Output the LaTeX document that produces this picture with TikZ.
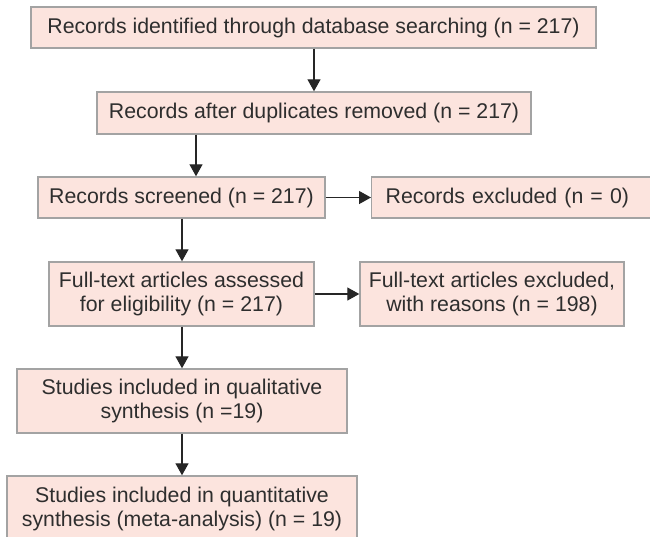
\documentclass[tikz,border=0pt]{standalone}
\usepackage{fontspec}
\setmainfont{Liberation Sans}
\usetikzlibrary{arrows.meta}
\definecolor{boxfill}{HTML}{FCE4DE}
\definecolor{boxline}{HTML}{A3A3A3}
\definecolor{txt}{HTML}{2E2E2E}
\definecolor{arrc}{HTML}{262626}
\begin{document}
\begin{tikzpicture}[x=1pt,y=-1pt,
  box/.style={draw=boxline,fill=boxfill,line width=1.4pt,inner sep=0pt,align=center,
    text=txt,font=\fontsize{21.3}{24}\selectfont},
  arr/.style={draw=arrc,line width=1.3pt,-{Triangle[length=12pt,width=13pt]}}]
\useasboundingbox (0,0) rectangle (650,536);
\node[box,minimum width=565pt,minimum height=41pt] (b1) at (313.5,27.5) {Records identified through database searching (n = 217)};
\node[box,minimum width=434pt,minimum height=42pt] (b2) at (314,113) {Records after duplicates removed (n = 217)};
\node[box,minimum width=287pt,minimum height=41pt] (b3) at (181.5,197.5) {Records screened (n = 217)};
\node[box,anchor=west,minimum width=285pt,minimum height=41pt,text width=257pt,inner xsep=14pt,align=left] (b4) at (371,197.5) {Records excluded (n = 0)};
\node[box,minimum width=265pt,minimum height=64pt] (b5) at (181.5,294) {Full-text articles assessed\\for eligibility (n = 217)};
\node[box,minimum width=264pt,minimum height=64pt] (b6) at (492,294) {Full-text articles excluded,\\with reasons (n = 198)};
\node[box,minimum width=330pt,minimum height=64pt] (b7) at (182,401) {Studies included in qualitative\\synthesis (n =19)};
\node[box,minimum width=350pt,minimum height=66pt] (b8) at (182,509) {Studies included in quantitative\\synthesis (meta-analysis) (n = 19)};
\coordinate (c2) at (196,0);
\coordinate (cm) at (182,0);
\draw[arr] (b1.south -| b2.north) -- (b2.north);
\draw[arr] (b2.south -| c2) -- (b3.north -| c2);
\draw[arr] (b3.east) -- (b4.west);
\draw[arr] (b3.south -| cm) -- (b5.north -| cm);
\draw[arr] (b5.east) -- (b6.west);
\draw[arr] (b5.south -| cm) -- (b7.north -| cm);
\draw[arr] (b7.south -| cm) -- (b8.north -| cm);
\end{tikzpicture}
\end{document}
